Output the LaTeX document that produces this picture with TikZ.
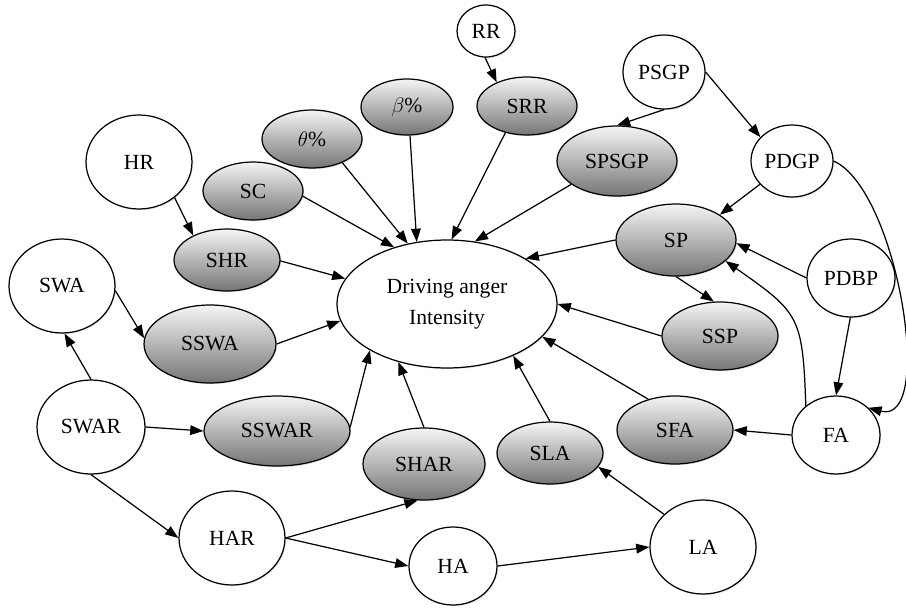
\documentclass[tikz,border=0pt]{standalone}
\usepackage{fontspec}
\setmainfont{Liberation Serif}
\usetikzlibrary{shapes.geometric, arrows.meta, shadows}

\tikzset{
	wnode/.style={ellipse, draw, line width=.7pt, fill=white, inner sep=0pt, drop shadow={shadow xshift=.7pt, shadow yshift=-.7pt, fill=black!18}},
	gnode/.style={wnode, top color=black!4, bottom color=black!54},
	arr/.style={-{Triangle[length=7.5pt, width=5.5pt]}, line width=.7pt}
}

\begin{document}
\begin{tikzpicture}[x=.02cm, y=-.02cm, font=\fontsize{12.3}{14.5}\selectfont]
	\useasboundingbox (0,0) rectangle (906,608);

	\node [wnode, minimum width=1.16cm, minimum height=1.04cm] (RR) at (486,31) {RR};
	\node [gnode, minimum width=2cm, minimum height=1.16cm] (SRR) at (527,106) {SRR};
	\node [wnode, minimum width=1.64cm, minimum height=1.48cm] (PSGP) at (664,72) {PSGP};
	\node [gnode, minimum width=2.4cm, minimum height=1.4cm] (SPSGP) at (617,161) {SPSGP};
	\node [wnode, minimum width=1.64cm, minimum height=1.44cm] (PDGP) at (792,161) {PDGP};
	\node [gnode, minimum width=2.4cm, minimum height=1.44cm] (SP) at (676,240) {SP};
	\node [wnode, minimum width=1.76cm, minimum height=1.56cm] (PDBP) at (851,278) {PDBP};
	\node [wnode, minimum width=4.4cm, minimum height=2.56cm, align=center] (DAI) at (447,304) {Driving anger\\[3pt]Intensity};
	\node [wnode, minimum width=2.12cm, minimum height=1.88cm] (HR) at (139,162) {HR};
	\node [gnode, minimum width=2cm, minimum height=1.16cm] (theta) at (312,139) {$\theta$\%};
	\node [gnode, minimum width=1.84cm, minimum height=1.12cm] (beta) at (407,107) {$\beta$\%};
	\node [gnode, minimum width=2cm, minimum height=1.16cm] (SC) at (253,191) {SC};
	\node [gnode, minimum width=2.12cm, minimum height=1.24cm] (SHR) at (227,260) {SHR};
	\node [wnode, minimum width=2.12cm, minimum height=1.88cm] (SWA) at (62,286) {SWA};
	\node [gnode, minimum width=2.64cm, minimum height=1.56cm] (SSWA) at (210,344) {SSWA};
	\node [wnode, minimum width=2.16cm, minimum height=1.88cm] (SWAR) at (91,427) {SWAR};
	\node [gnode, minimum width=2.92cm, minimum height=1.4cm] (SSWAR) at (277,431) {SSWAR};
	\node [gnode, minimum width=2.44cm, minimum height=1.44cm] (SHAR) at (424,464) {SHAR};
	\node [wnode, minimum width=2.12cm, minimum height=1.88cm] (HAR) at (232,538) {HAR};
	\node [wnode, minimum width=1.76cm, minimum height=1.56cm] (HA) at (453,566) {HA};
	\node [gnode, minimum width=2.12cm, minimum height=1.24cm] (SLA) at (550,453) {SLA};
	\node [gnode, minimum width=2.32cm, minimum height=1.36cm] (SFA) at (675,430) {SFA};
	\node [gnode, minimum width=2.32cm, minimum height=1.36cm] (SSP) at (720,336) {SSP};
	\node [wnode, minimum width=2.12cm, minimum height=1.88cm] (LA) at (703,547) {LA};
	\node [wnode, minimum width=1.76cm, minimum height=1.56cm] (FA) at (836,435) {FA};

	\draw [arr] (RR.-92) to (SRR.142);
	\draw [arr] (PSGP.-90) to (SPSGP.90);
	\draw [arr] (PSGP.0) to (PDGP.143);
	\draw [arr] (PDGP.-144) to (SP.30);
	\draw [arr] (PDBP.180) to (SP.-3);
	\draw [arr] (PDBP.-91) to (FA.90);
	\draw [arr] (FA.180) to (SFA.0);
	\draw [arr] (FA.136) to [out=92, in=-35, distance=1.8cm] (SP.-23);
	\draw [arr] (PDGP.0) to [out=-24, in=-15, distance=1.4cm] (FA.40);
	\draw [arr] (SP.-90) to (SSP.100);

	\draw [arr] (SC.-6) to (DAI.133);
	\draw [arr] (theta.-38) to (DAI.123);
	\draw [arr] (beta.-84) to (DAI.116);
	\draw [arr] (SRR.-129) to (DAI.86);
	\draw [arr] (SPSGP.-153) to (DAI.66);
	\draw [arr] (SP.180) to (DAI.30);
	\draw [arr] (SHR.-1) to (DAI.166);
	\draw [arr] (SSWA.0) to (DAI.-171);
	\draw [arr] (SSWAR.3) to (DAI.211);
	\draw [arr] (SHAR.90) to (DAI.230);
	\draw [arr] (SLA.90) to (DAI.-38);
	\draw [arr] (SFA.131) to (DAI.-19);
	\draw [arr] (SSP.180) to (DAI.0);

	\draw [arr] (HR.-45) to (SHR.144);
	\draw [arr] (SWA.-5) to (SSWA.175);
	\draw [arr] (SWAR.90) to (SWA.-87);
	\draw [arr] (SWAR.0) to (SSWAR.180);
	\draw [arr] (SWAR.-90) to (HAR.180);
	\draw [arr] (HAR.0) to (SHAR.-100);
	\draw [arr] (HAR.0) to (HA.180);
	\draw [arr] (HA.0) to (LA.180);
	\draw [arr] (LA.140) to (SLA.-16);
\end{tikzpicture}
\end{document}
